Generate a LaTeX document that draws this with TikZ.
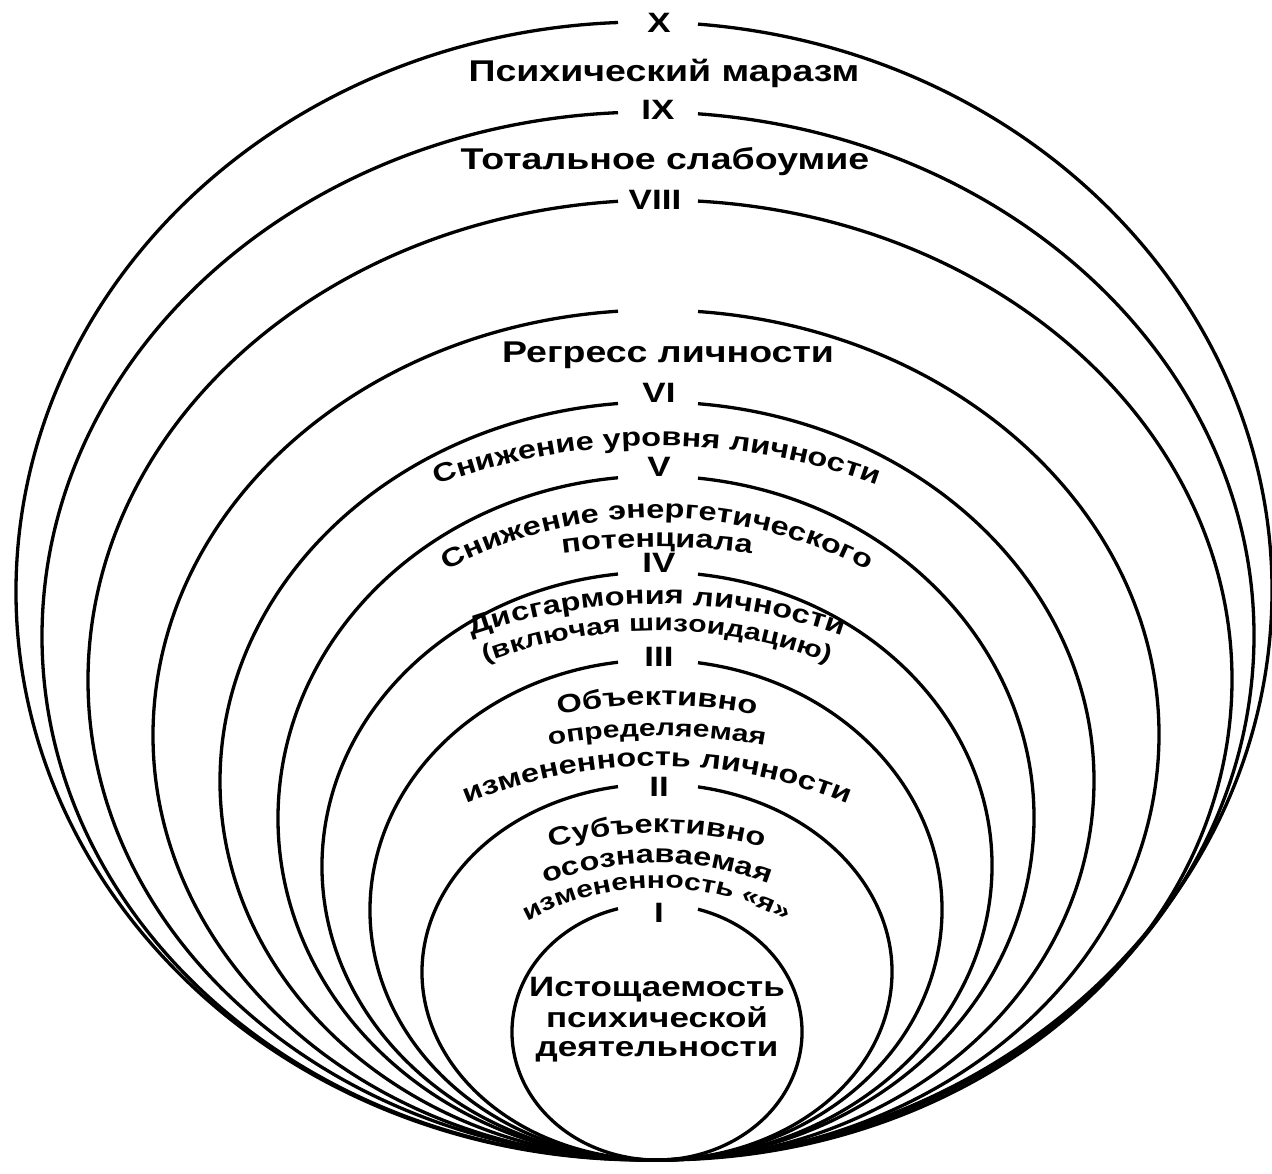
\documentclass[tikz,border=0pt]{standalone}
\usepackage{fontspec}
\setmainfont{Liberation Sans}[FakeStretch=1.25]
\usetikzlibrary{decorations.text}
\newcommand{\lblfont}{\fontsize{28}{30}\selectfont\bfseries}
\newcommand{\arcfont}{\fontsize{26}{28}\selectfont\bfseries}
\newcommand{\arcsmallfont}{\fontsize{24}{26}\selectfont\bfseries}
\tikzset{%
    ring/.style={line width=3.3pt},
    num/.style={font=\lblfont, inner sep=0pt},
    lbl/.style={font=\lblfont, inner sep=0pt, anchor=base},
    wide/.style={lbl, font=\fontsize{30}{32}\selectfont\bfseries},
    arctext/.style={decorate, decoration={text along path, text align=center, text={|\arcfont|#1}}},
    arcsmall/.style={decorate, decoration={text along path, text align=center, text={|\arcsmallfont|#1}}}
}

\begin{document}
\begin{tikzpicture}[x=1pt, y=1pt]
    \useasboundingbox (0,0) rectangle (1272,1173);

    \draw[ring] (657,141) ++({acos(41/145)}:145 and 128) arc[start angle={acos(41/145)}, end angle={acos(-39/145)-360}, x radius=145, y radius=128];
    \draw[ring] (657,201) ++({acos(41/235)}:235 and 188) arc[start angle={acos(41/235)}, end angle={acos(-39/235)-360}, x radius=235, y radius=188];
    \draw[ring] (656,263) ++({acos(42/286)}:286 and 250) arc[start angle={acos(42/286)}, end angle={acos(-38/286)-360}, x radius=286, y radius=250];
    \draw[ring] (657,307) ++({acos(41/335)}:335 and 294) arc[start angle={acos(41/335)}, end angle={acos(-39/335)-360}, x radius=335, y radius=294];
    \draw[ring] (656,355) ++({acos(42/378)}:378 and 342) arc[start angle={acos(42/378)}, end angle={acos(-38/378)-360}, x radius=378, y radius=342];
    \draw[ring] (657,392) ++({acos(41/437)}:437 and 379) arc[start angle={acos(41/437)}, end angle={acos(-39/437)-360}, x radius=437, y radius=379];
    \draw[ring] (656,438) ++({acos(42/503)}:503 and 425) arc[start angle={acos(42/503)}, end angle={acos(-38/503)-360}, x radius=503, y radius=425];
    \draw[ring] (660,493) ++({acos(38/572)}:572 and 480) arc[start angle={acos(38/572)}, end angle={acos(-42/572)-360}, x radius=572, y radius=480];
    \draw[ring] (648,537) ++({acos(50/606)}:606 and 524) arc[start angle={acos(50/606)}, end angle={acos(-30/606)-360}, x radius=606, y radius=524];
    \draw[ring] (644,582) ++({acos(54/628)}:628 and 569) arc[start angle={acos(54/628)}, end angle={acos(-26/628)-360}, x radius=628, y radius=569];

    \node[num] (nI) at (659,260) {I};
    \node[num] (nII) at (659,386) {II};
    \node[num] (nIII) at (659,516) {III};
    \node[num] (nIV) at (659,610) {IV};
    \node[num] (nV) at (659,706) {V};
    \node[num] (nVI) at (659,780) {VI};
    \node[num] (nVIII) at (655,973) {VIII};
    \node[num] (nIX) at (658,1063) {IX};
    \node[num] (nX) at (659,1150) {X};

    \node[wide] (marazm) at (664,1091) {Психический маразм};
    \node[wide] (slaboumie) at (665,1003) {Тотальное слабоумие};
    \node[wide] (regress) at (668,810) {Регресс личности};

    \path[arctext={Снижение уровня личности}] (657,87) ++(130:640) arc[start angle=130, end angle=50, radius=640];
    \path[arctext={Снижение энергетического}] (657,205) ++(140:450) arc[start angle=140, end angle=40, radius=450];
    \path[arctext={потенциала}] (657,-74) ++(110:700) arc[start angle=110, end angle=70, radius=700];
    \path[arctext={Дисгармония личности}] (657,9) ++(130:560) arc[start angle=130, end angle=50, radius=560];
    \path[arcsmall={(включая шизоидацию)}] (657,62) ++(135:480) arc[start angle=135, end angle=45, radius=480];
    \path[arctext={Объективно}] (657,-32) ++(120:500) arc[start angle=120, end angle=60, radius=500];
    \path[arcsmall={определяемая}] (657,-163) ++(115:600) arc[start angle=115, end angle=65, radius=600];
    \path[arctext={измененность личности}] (657,-88) ++(130:495) arc[start angle=130, end angle=50, radius=495];
    \path[arctext={Субъективно}] (657,-60) ++(125:400) arc[start angle=125, end angle=55, radius=400];
    \path[arctext={осознаваемая}] (657,0) ++(135:310) arc[start angle=135, end angle=45, radius=310];
    \path[arcsmall={измененность «я»}] (657,15) ++(140:270) arc[start angle=140, end angle=40, radius=270];

    \node[lbl] (ist) at (657,176) {Истощаемость};
    \node[lbl] (psih) at (657,145) {психической};
    \node[lbl] (deyat) at (657,116) {деятельности};
\end{tikzpicture}
\end{document}
